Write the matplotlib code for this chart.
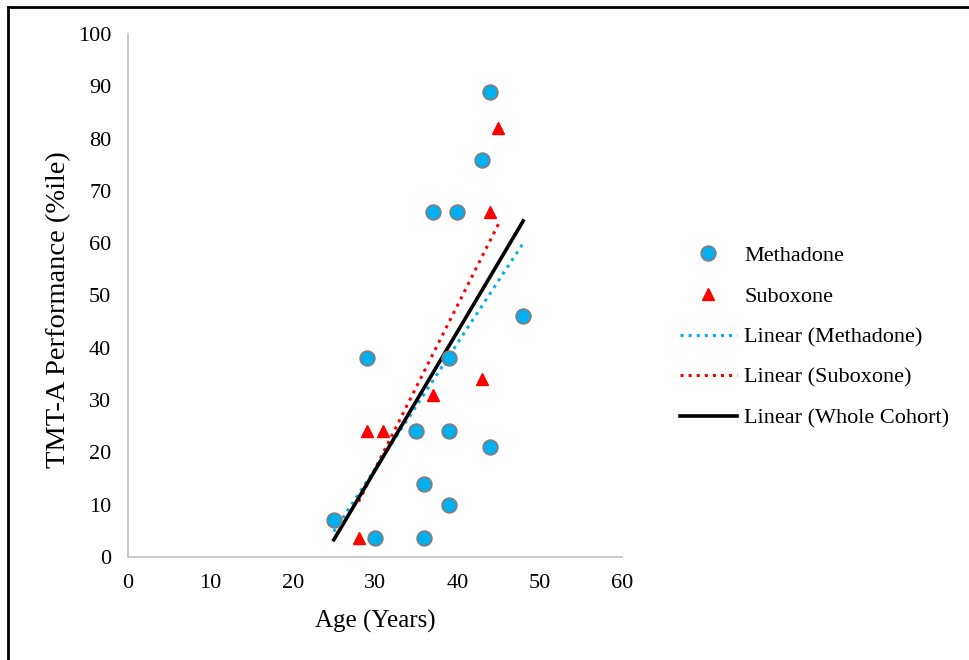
import numpy as np
import matplotlib
matplotlib.use("Agg")
import matplotlib.pyplot as plt
from matplotlib.lines import Line2D

plt.rcParams['font.family'] = ['Liberation Serif', 'DejaVu Serif']

# data
meth_age = [44, 43, 37, 40, 48, 29, 39, 35, 39, 44, 36, 39, 25, 30, 36]
meth_tmt = [89, 76, 66, 66, 46, 38, 38, 24, 24, 21, 14, 10, 7, 3.6, 3.6]
sub_age = [45, 44, 43, 37, 29, 31, 28]
sub_tmt = [82, 66, 34, 31, 24, 24, 3.6]

x_ticks = [0, 10, 20, 30, 40, 50, 60]
y_ticks = [0, 10, 20, 30, 40, 50, 60, 70, 80, 90, 100]

blue = '#00B0F0'
red = '#FF0000'

fig = plt.figure(figsize=(9.69, 6.6), dpi=100)
ax = fig.add_axes([128/969, 1-557/660, (622-128)/969, (557-34)/660])

ax.plot(meth_age, meth_tmt, 'o', color=blue, markeredgecolor='#7F7F7F',
        markeredgewidth=1.3, markersize=10.5, label='Methadone', zorder=3)
ax.plot(sub_age, sub_tmt, '^', color=red, markeredgecolor=red,
        markersize=9, label='Suboxone', zorder=3)


def trend(xs, ys):
    k, b = np.polyfit(xs, ys, 1)
    xx = np.array([min(xs), max(xs)])
    return xx, k * xx + b


xx, yy = trend(meth_age, meth_tmt)
ax.plot(xx, yy, ':', color=blue, lw=2.2, label='Linear (Methadone)', zorder=2)
xx, yy = trend(sub_age, sub_tmt)
ax.plot(xx, yy, ':', color=red, lw=2.2, label='Linear (Suboxone)', zorder=2)
xx, yy = trend(meth_age + sub_age, meth_tmt + sub_tmt)
ax.plot(xx, yy, '-', color='black', lw=2.6, label='Linear (Whole Cohort)', zorder=2)

ax.set_xlim(0, 60)
ax.set_ylim(0, 100)
ax.set_xticks(x_ticks)
ax.set_yticks(y_ticks)
ax.tick_params(length=0, labelsize=16, pad=12)
for s in ['top', 'right']:
    ax.spines[s].set_visible(False)
for s in ['left', 'bottom']:
    ax.spines[s].set_color('#BFBFBF')
    ax.spines[s].set_linewidth(1.2)

ax.set_xlabel('Age (Years)', fontsize=18)
ax.set_ylabel('TMT-A Performance (%ile)', fontsize=20.5)
ax.xaxis.set_label_coords(0.5, (557-610)/523)
ax.yaxis.set_label_coords((71-128)/494, (557-310)/523)

ax.legend(loc='center left', bbox_to_anchor=(680/969, 1-337/660), bbox_transform=fig.transFigure,
          frameon=False, fontsize=16, handlelength=2.55, labelspacing=0.9,
          handletextpad=0.35, borderpad=0, borderaxespad=0)

# outer frame: only top and left edges are visible
fig.add_artist(Line2D([8/969, 8/969], [0, 1-7/660], transform=fig.transFigure, color='black', lw=2))
fig.add_artist(Line2D([8/969, 1], [1-7/660, 1-7/660], transform=fig.transFigure, color='black', lw=2))

fig.savefig('out.png', dpi=100)
